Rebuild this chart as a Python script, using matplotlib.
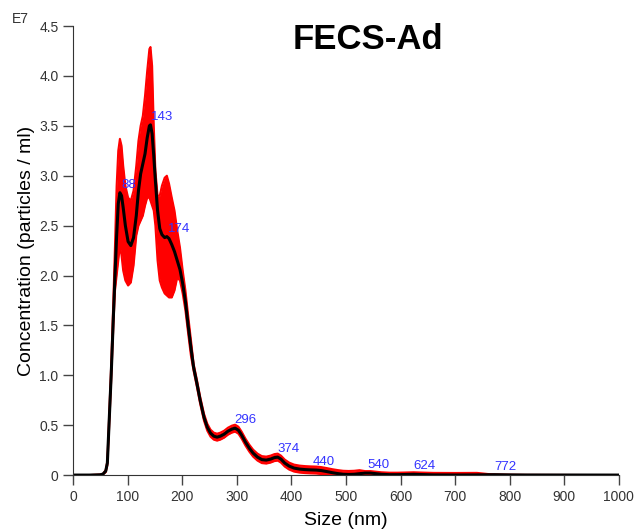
import matplotlib.pyplot as plt
import numpy as np

# size grid (nm) and concentration (x1e7 particles/ml)
size_nm = [0, 30, 50, 55, 60, 63, 66, 70, 74, 77, 80, 83, 86, 89, 92, 96, 101, 106,
           111, 116, 120, 124, 128, 132, 136, 140, 142, 145, 148, 151, 155, 159, 163,
           168, 172, 176, 181, 186, 191, 196, 201, 206, 211, 216, 221, 227, 233, 240,
           246, 252, 258, 264, 270, 277, 284, 291, 297, 303, 309, 316, 323, 330, 338,
           346, 354, 362, 369, 375, 381, 388, 396, 405, 415, 425, 435, 446, 455, 465,
           475, 485, 495, 505, 515, 525, 535, 545, 555, 565, 580, 595, 610, 624, 640,
           660, 700, 740, 772, 800, 830, 1000]
mean = [0, 0, 0.003, 0.01, 0.04, 0.12, 0.5, 1.0, 1.58, 2.0, 2.4, 2.72, 2.83, 2.8, 2.68,
        2.5, 2.34, 2.30, 2.38, 2.6, 2.85, 3.02, 3.12, 3.22, 3.38, 3.5, 3.51, 3.42, 3.2,
        2.95, 2.65, 2.47, 2.41, 2.38, 2.39, 2.37, 2.31, 2.24, 2.15, 2.06, 1.92, 1.74,
        1.50, 1.28, 1.08, 0.92, 0.75, 0.58, 0.48, 0.42, 0.39, 0.38, 0.39, 0.41, 0.44,
        0.46, 0.47, 0.45, 0.40, 0.33, 0.27, 0.22, 0.18, 0.155, 0.15, 0.16, 0.175, 0.18,
        0.16, 0.12, 0.09, 0.07, 0.06, 0.055, 0.052, 0.05, 0.045, 0.035, 0.024, 0.015,
        0.008, 0.006, 0.008, 0.014, 0.02, 0.02, 0.014, 0.008, 0.004, 0.004, 0.006,
        0.008, 0.005, 0.002, 0.001, 0.002, 0.004, 0.002, 0.001, 0]
# error band, upper part (first 44 points differ strongly, rest is a thin band)
upper_head = [0, 0, 0.003, 0.012, 0.05, 0.14, 0.55, 1.1, 1.75, 2.3, 2.9, 3.25, 3.37,
              3.3, 3.1, 2.9, 2.78, 2.75, 2.85, 3.1, 3.35, 3.5, 3.6, 3.8, 4.05, 4.27,
              4.29, 4.1, 3.5, 3.05, 2.8, 2.8, 2.9, 2.98, 3.0, 2.92, 2.78, 2.65, 2.45,
              2.28, 2.05, 1.85, 1.6, 1.36]
lower_head = [0, 0, 0.003, 0.008, 0.03, 0.1, 0.45, 0.95, 1.5, 1.85, 2.0, 2.15, 2.3,
              2.2, 2.05, 1.95, 1.9, 1.93, 2.1, 2.4, 2.5, 2.55, 2.6, 2.7, 2.78, 2.78,
              2.75, 2.7, 2.65, 2.5, 2.15, 1.95, 1.88, 1.82, 1.8, 1.78, 1.78, 1.85, 1.98,
              1.95, 1.82, 1.65, 1.42, 1.2]
tail_spread = [0.035] * 40 + [0.02] * 12 + [0.0] * 4

peak_sizes = [88, 143, 174, 296, 374, 440, 540, 624, 772]
peak_heights = [2.83, 3.51, 2.39, 0.47, 0.18, 0.05, 0.02, 0.008, 0.004]

x = np.array(size_nm)
m = np.array(mean)
n_head = len(upper_head)
upper = np.concatenate([upper_head, m[n_head:] + np.array(tail_spread)])
lower = np.concatenate([lower_head, np.clip(m[n_head:] - np.array(tail_spread), 0, None)])

plt.rcParams['font.family'] = ['Liberation Sans', 'DejaVu Sans']
fig = plt.figure(figsize=(6.4, 5.32), dpi=100)
ax = fig.add_axes([0.114, 0.107, 0.853, 0.844])

ax.fill_between(x, lower, upper, color='red', lw=0)
ax.plot(x, upper, color='red', lw=1.5)
ax.plot(x, lower, color='red', lw=1.5)
ax.plot(x, m, color='black', lw=2.2)

for s, h in zip(peak_sizes, peak_heights):
    ax.text(s, h + 0.02, str(s), color='#3333ff', fontsize=9.5, ha='left', va='bottom')

ax.set_xlim(0, 1000)
ax.set_ylim(0, 4.5)
ax.set_xticks(np.arange(0, 1001, 100))
ax.set_yticks(np.arange(0, 4.51, 0.5))
ax.set_yticklabels(['0'] + [f'{v:.1f}' for v in np.arange(0.5, 4.51, 0.5)])
ax.tick_params(direction='out', length=7, width=1, colors='#444444',
               labelsize=10, labelcolor='#333333')
for side in ['top', 'right']:
    ax.spines[side].set_visible(False)
for side in ['left', 'bottom']:
    ax.spines[side].set_color('#333333')

ax.set_xlabel('Size (nm)', fontsize=14, labelpad=6)
ax.set_ylabel('Concentration (particles / ml)', fontsize=14, labelpad=3)
ax.text(0.54, 0.97, 'FECS-Ad', transform=ax.transAxes, fontsize=25,
        fontweight='bold', ha='center', va='center')
fig.text(0.018, 0.965, 'E7', fontsize=10, color='#333333', ha='left', va='center')

fig.savefig('out.png', dpi=100)
